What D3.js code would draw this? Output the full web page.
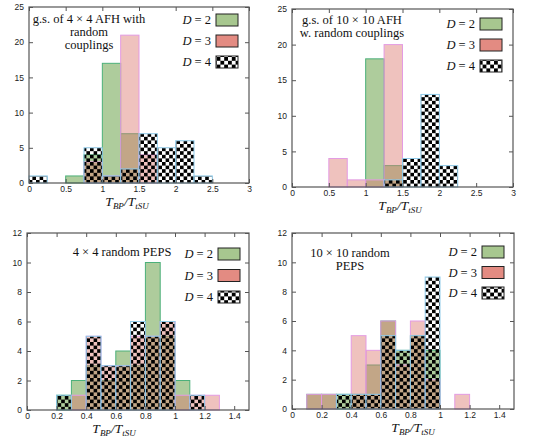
<!DOCTYPE html>
<html>
<head>
<meta charset="utf-8">
<script src="https://cdn.jsdelivr.net/npm/d3@7"></script>
<style>
  body { margin: 0; background: #fff; }
  svg { display: block; }
</style>
</head>
<body>
<div id="plot"></div>
<script>
// bin edges
var binsWide = [0, 0.25, 0.5, 0.75, 1, 1.25, 1.5, 1.75, 2, 2.25, 2.5, 2.75];
var binsNarrow = [0, 0.1, 0.2, 0.3, 0.4, 0.5, 0.6, 0.7, 0.8, 0.9, 1.0, 1.1, 1.2, 1.3, 1.4];

// counts per bin, panel by panel
var afh4D2 = [0, 0, 1, 4, 17, 7, 0, 0, 0, 0, 0, 0];
var afh4D3 = [0, 0, 0, 3, 1, 21, 4, 0, 0, 0, 0, 0];
var afh4D4 = [1, 0, 0, 5, 1, 2, 7, 5, 6, 1, 0, 0];

var afh10D2 = [0, 0, 0, 0, 18, 3, 0, 0, 0, 0, 0, 0];
var afh10D3 = [0, 0, 4, 1, 1, 20, 0, 0, 0, 0, 0, 0];
var afh10D4 = [0, 0, 0, 0, 0, 1, 4, 13, 3, 0, 0, 0];

var peps4D2 = [0, 0, 1, 2, 3, 2, 4, 3, 10, 5, 2, 0, 0, 0, 0];
var peps4D3 = [0, 0, 0, 1, 5, 3, 3, 5, 5, 6, 1, 1, 1, 0, 0];
var peps4D4 = [0, 0, 1, 0, 5, 3, 3, 6, 5, 6, 0, 1, 0, 0, 0];

var peps10D2 = [0, 1, 1, 1, 1, 3, 6, 4, 5, 4, 0, 0, 0, 0, 0];
var peps10D3 = [0, 1, 1, 0, 5, 4, 6, 3, 6, 2, 0, 1, 0, 0, 0];
var peps10D4 = [0, 0, 0, 1, 1, 1, 5, 4, 5, 9, 0, 0, 0, 0, 0];

var xTicksWide = [0, 0.5, 1, 1.5, 2, 2.5, 3];
var xTicksNarrow = [0, 0.2, 0.4, 0.6, 0.8, 1, 1.2, 1.4];
var yTicksAfh = [0, 5, 10, 15, 20, 25];
var yTicksPeps = [0, 2, 4, 6, 8, 10, 12];

var legendLabels = ["2", "3", "4"];

var panels = [
  { x0: 29, x1: 249, yT: 7, yB: 183, xMax: 3, yMax: 25, edges: binsWide, w: 0.25,
    series: [afh4D2, afh4D3, afh4D4], xTicks: xTicksWide, yTicks: yTicksAfh,
    title: ["g.s. of 4 × 4 AFH with", "random", "couplings"], titleX: 89, titleY: 23, titleDy: 13,
    legX: 216, legY: 14, legDy: 21, labelX: 127 },
  { x0: 292, x1: 513, yT: 9, yB: 187, xMax: 3, yMax: 25, edges: binsWide, w: 0.25,
    series: [afh10D2, afh10D3, afh10D4], xTicks: xTicksWide, yTicks: yTicksAfh,
    title: ["g.s. of 10 × 10 AFH", "w. random couplings"], titleX: 352, titleY: 24, titleDy: 13,
    legX: 480, legY: 18, legDy: 21, labelX: 400 },
  { x0: 27, x1: 249, yT: 233, yB: 410, xMax: 1.5, yMax: 12, edges: binsNarrow, w: 0.1,
    series: [peps4D2, peps4D3, peps4D4], xTicks: xTicksNarrow, yTicks: yTicksPeps,
    title: ["4 × 4 random PEPS"], titleX: 122, titleY: 256, titleDy: 13,
    legX: 218, legY: 248, legDy: 21.5, labelX: 114 },
  { x0: 292, x1: 514, yT: 233, yB: 409, xMax: 1.5, yMax: 12, edges: binsNarrow, w: 0.1,
    series: [peps10D2, peps10D3, peps10D4], xTicks: xTicksNarrow, yTicks: yTicksPeps,
    title: ["10 × 10 random", "PEPS"], titleX: 350, titleY: 257, titleDy: 13,
    legX: 482, legY: 246, legDy: 20.5, labelX: 413 }
];

var barFill = ["rgb(120,170,90)", "rgb(220,120,110)", "url(#checker)"];
var barOpacity = [0.6, 0.45, 1];
var barStroke = ["#4cb07a", "#e39be3", "#8fcbea"];
var keyFill = ["#a7c78f", "#e38b82", "url(#checkerKey)"];

var svg = d3.select("#plot").append("svg")
  .attr("width", 533)
  .attr("height", 438);

var defs = svg.append("defs");

function makeChecker(id, s) {
  var p = defs.append("pattern")
    .attr("id", id)
    .attr("patternUnits", "userSpaceOnUse")
    .attr("width", 2 * s)
    .attr("height", 2 * s);
  p.append("rect").attr("width", s).attr("height", s).attr("fill", "#000");
  p.append("rect").attr("x", s).attr("y", s).attr("width", s).attr("height", s).attr("fill", "#000");
}
makeChecker("checker", 3.6);
makeChecker("checkerKey", 3.8);

var serif = "'Liberation Serif', 'DejaVu Serif', serif";
var sans = "'Liberation Sans', 'DejaVu Sans', sans-serif";

panels.forEach(function(p) {
  var x = d3.scaleLinear().domain([0, p.xMax]).range([p.x0, p.x1]);
  var y = d3.scaleLinear().domain([0, p.yMax]).range([p.yB, p.yT]);
  var g = svg.append("g");

  // bars
  p.series.forEach(function(counts, si) {
    g.append("g").selectAll("rect")
      .data(counts.map(function(c, i) { return { lo: p.edges[i], c: c }; }).filter(function(d) { return d.c > 0; }))
      .join("rect")
      .attr("x", d => x(d.lo))
      .attr("y", d => y(d.c))
      .attr("width", d => x(d.lo + p.w) - x(d.lo))
      .attr("height", d => y(0) - y(d.c))
      .attr("fill", barFill[si])
      .attr("fill-opacity", barOpacity[si])
      .attr("stroke", barStroke[si])
      .attr("stroke-width", 1);
  });

  // axes with inward ticks on all sides
  var tickLen = 4;
  var fmt = d3.format("");
  g.append("g")
    .attr("transform", "translate(0," + p.yB + ")")
    .call(d3.axisBottom(x).tickValues(p.xTicks).tickSize(-tickLen).tickPadding(3).tickFormat(fmt))
    .call(a => a.select(".domain").remove());
  g.append("g")
    .attr("transform", "translate(0," + p.yT + ")")
    .call(d3.axisTop(x).tickValues(p.xTicks).tickSize(-tickLen).tickFormat(""))
    .call(a => a.select(".domain").remove());
  g.append("g")
    .attr("transform", "translate(" + p.x0 + ",0)")
    .call(d3.axisLeft(y).tickValues(p.yTicks).tickSize(-tickLen).tickPadding(5))
    .call(a => a.select(".domain").remove());
  g.append("g")
    .attr("transform", "translate(" + p.x1 + ",0)")
    .call(d3.axisRight(y).tickValues(p.yTicks).tickSize(-tickLen).tickFormat(""))
    .call(a => a.select(".domain").remove());

  g.selectAll(".tick line").attr("stroke", "#555");
  g.selectAll(".tick text").attr("font-family", sans).attr("font-size", 8.5).attr("fill", "#222");

  g.append("rect")
    .attr("x", p.x0).attr("y", p.yT)
    .attr("width", p.x1 - p.x0).attr("height", p.yB - p.yT)
    .attr("fill", "none").attr("stroke", "#555").attr("stroke-width", 1.2);

  // annotation
  p.title.forEach(function(t, i) {
    g.append("text")
      .attr("x", p.titleX)
      .attr("y", p.titleY + i * p.titleDy)
      .attr("text-anchor", "middle")
      .attr("font-family", serif)
      .attr("font-size", 12.5)
      .attr("fill", "#111")
      .text(t);
  });

  // legend
  legendLabels.forEach(function(lab, i) {
    var ly = p.legY + i * p.legDy;
    var t = g.append("text")
      .attr("x", p.legX - 5)
      .attr("y", ly + 10)
      .attr("text-anchor", "end")
      .attr("font-family", serif)
      .attr("font-size", 12.5)
      .attr("fill", "#111");
    t.append("tspan").attr("font-style", "italic").text("D");
    t.append("tspan").text(" = " + lab);
    g.append("rect")
      .attr("x", p.legX).attr("y", ly)
      .attr("width", 22).attr("height", 12)
      .attr("fill", "#fff")
      .attr("stroke", "none");
    g.append("rect")
      .attr("x", p.legX).attr("y", ly)
      .attr("width", 22).attr("height", 12)
      .attr("fill", keyFill[i])
      .attr("stroke", "#222")
      .attr("stroke-width", 1);
  });

  // x axis label T_BP / T_tSU
  var lbl = g.append("text")
    .attr("x", p.labelX)
    .attr("y", p.yB + 23)
    .attr("text-anchor", "middle")
    .attr("font-family", serif)
    .attr("font-style", "italic")
    .attr("font-size", 13.5)
    .attr("fill", "#111");
  lbl.append("tspan").text("T");
  lbl.append("tspan").attr("font-size", 9).attr("dy", 2.5).text("BP");
  lbl.append("tspan").attr("dy", -2.5).text("/T");
  lbl.append("tspan").attr("font-size", 9).attr("dy", 2.5).text("tSU");
});
</script>
</body>
</html>
